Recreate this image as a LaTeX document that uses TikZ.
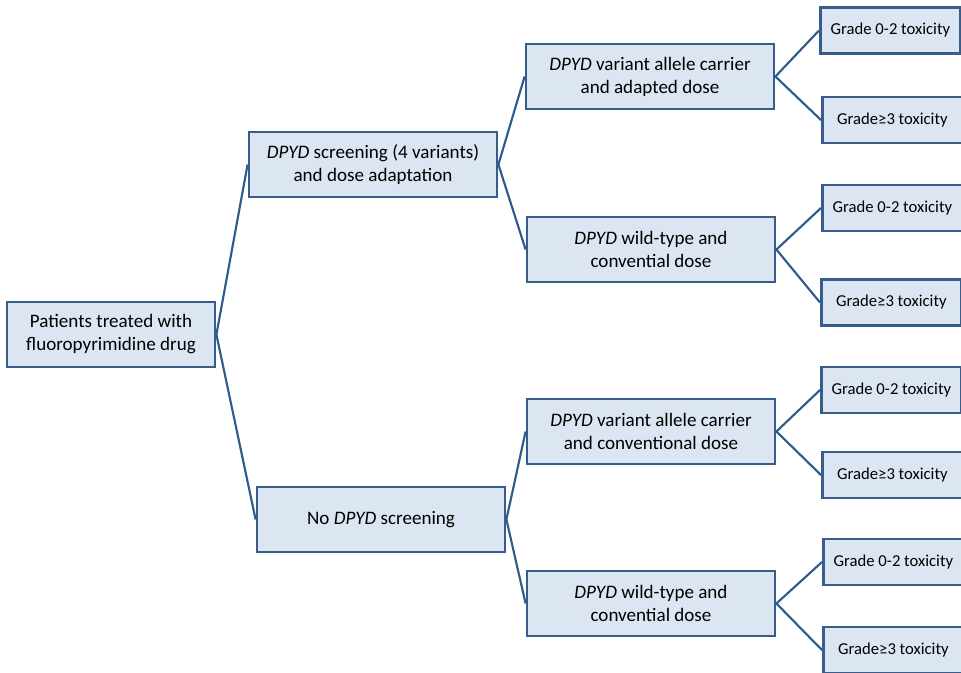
\documentclass[tikz,border=0pt]{standalone}
\usepackage{fontspec}
\setmainfont{Carlito}
\definecolor{boxfill}{HTML}{DCE6F2}
\definecolor{boxline}{HTML}{385D8A}
\definecolor{edgeline}{HTML}{2F5A8C}
\begin{document}
\begin{tikzpicture}[x=0.75pt,y=-0.75pt,
  box/.style={draw=boxline,fill=boxfill,line width=2.1pt,minimum width=186pt,minimum height=48.75pt,inner sep=0pt,align=center,font=\fontsize{14.3}{17.25}\selectfont},
  leaf/.style={draw=boxline,fill=boxfill,line width=2.1pt,minimum width=105pt,minimum height=34.5pt,inner sep=0pt,anchor=west,font=\fontsize{12.5}{14}\selectfont},
  conn/.style={draw=edgeline,line width=1.6pt}]
\useasboundingbox (0,0) rectangle (961,672);
\clip (0,0) rectangle (961,672);
\node[box,minimum width=156pt] (root) at (111,334.5) {Patients treated with\\fluoropyrimidine drug};
\node[box] (s) at (373,164.5) {\textit{DPYD} screening (4 variants)\\and dose adaptation};
\node[box] (n) at (381,519.5) {No \textit{DPYD} screening};
\node[box] (sa) at (650,76.5) {\textit{DPYD} variant allele carrier\\and adapted dose};
\node[box] (sb) at (651,249.5) {\textit{DPYD} wild-type and\\convential dose};
\node[box] (na) at (651,431.5) {\textit{DPYD} variant allele carrier\\and conventional dose};
\node[box] (nb) at (651,603.5) {\textit{DPYD} wild-type and\\convential dose};
\node[leaf] (sa1) at (819,30.5) {Grade 0-2 toxicity};
\node[leaf] (sa2) at (821,120) {Grade≥3 toxicity};
\node[leaf] (sb1) at (821,208) {Grade 0-2 toxicity};
\node[leaf] (sb2) at (820,302.5) {Grade≥3 toxicity};
\node[leaf] (na1) at (820,390) {Grade 0-2 toxicity};
\node[leaf] (na2) at (821,475) {Grade≥3 toxicity};
\node[leaf] (nb1) at (822,562) {Grade 0-2 toxicity};
\node[leaf] (nb2) at (822,650) {Grade≥3 toxicity};
\draw[conn] (s.west) -- (root.east) -- (n.west);
\draw[conn] (sa.west) -- (s.east) -- (sb.west);
\draw[conn] (na.west) -- (n.east) -- (nb.west);
\draw[conn] (sa1.west) -- (sa.east) -- (sa2.west);
\draw[conn] (sb1.west) -- (sb.east) -- (sb2.west);
\draw[conn] (na1.west) -- (na.east) -- (na2.west);
\draw[conn] (nb1.west) -- (nb.east) -- (nb2.west);
\end{tikzpicture}
\end{document}
